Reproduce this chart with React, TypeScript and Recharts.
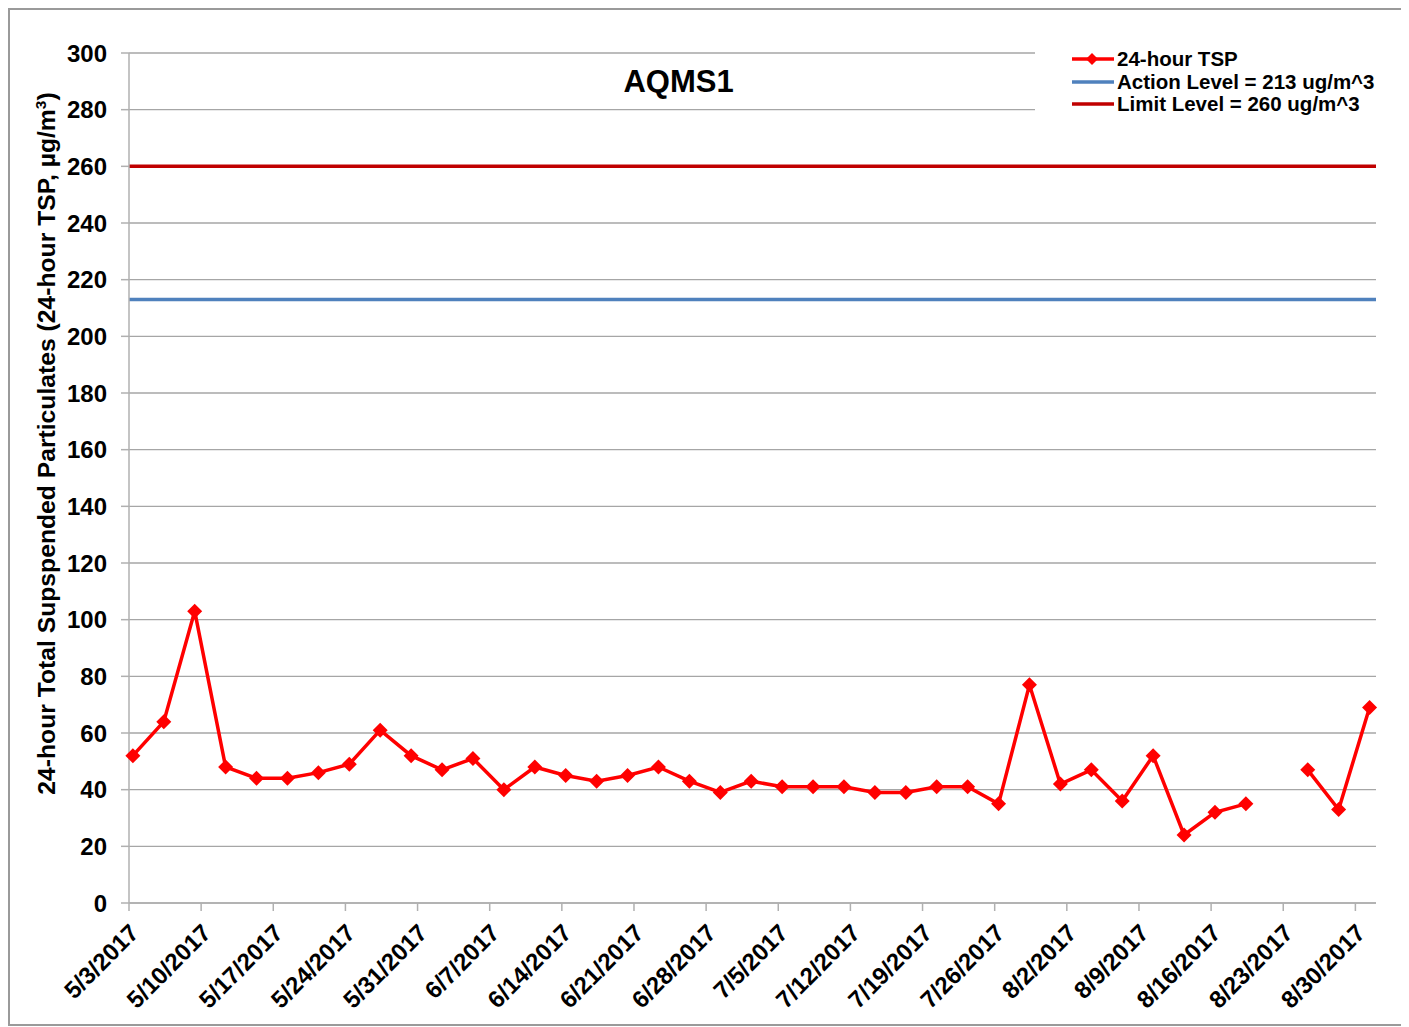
import {
  CartesianGrid,
  Customized,
  Legend,
  Line,
  LineChart,
  ReferenceLine,
  XAxis,
  YAxis,
} from "recharts";

const FONT = "'Liberation Sans', Arial, sans-serif";

// 24-hour samples, one every third day
const SAMPLE_DATES = [
  "2017-05-03", "2017-05-06", "2017-05-09", "2017-05-12", "2017-05-15",
  "2017-05-18", "2017-05-21", "2017-05-24", "2017-05-27", "2017-05-30",
  "2017-06-02", "2017-06-05", "2017-06-08", "2017-06-11", "2017-06-14",
  "2017-06-17", "2017-06-20", "2017-06-23", "2017-06-26", "2017-06-29",
  "2017-07-02", "2017-07-05", "2017-07-08", "2017-07-11", "2017-07-14",
  "2017-07-17", "2017-07-20", "2017-07-23", "2017-07-26", "2017-07-29",
  "2017-08-01", "2017-08-04", "2017-08-07", "2017-08-10", "2017-08-13",
  "2017-08-16", "2017-08-19", "2017-08-22", "2017-08-25", "2017-08-28",
  "2017-08-31",
];
// sampling starts in the morning
const SAMPLE_START = "T09:00:00Z";

const TSP = [
  52, 64, 103, 48, 44, 44, 46, 49, 61, 52,
  47, 51, 40, 48, 45, 43, 45, 48, 43, 39,
  43, 41, 41, 41, 39, 39, 41, 41, 35, 77,
  42, 47, 36, 52, 24, 32, 35, null, 47, 33,
  69,
];

const ACTION_LEVEL = 213;
const LIMIT_LEVEL = 260;

const X_TICK_DATES = [
  "2017-05-03", "2017-05-10", "2017-05-17", "2017-05-24", "2017-05-31",
  "2017-06-07", "2017-06-14", "2017-06-21", "2017-06-28", "2017-07-05",
  "2017-07-12", "2017-07-19", "2017-07-26", "2017-08-02", "2017-08-09",
  "2017-08-16", "2017-08-23", "2017-08-30",
];
const X_RANGE = ["2017-05-03", "2017-09-01"];
const Y_TICKS = [0, 20, 40, 60, 80, 100, 120, 140, 160, 180, 200, 220, 240, 260, 280, 300];

const COLORS = {
  tsp: "#FF0000",
  action: "#4F81BD",
  limit: "#C00000",
  grid: "#a6a6a6",
  axis: "#b0b0b0",
};

const dayMs = (s: string) => Date.parse(s + "T00:00:00Z");

const data = SAMPLE_DATES.map((d, i) => ({
  t: Date.parse(d + SAMPLE_START),
  tsp: TSP[i],
}));

function fmtDate(ms: number) {
  const d = new Date(ms);
  return `${d.getUTCMonth() + 1}/${d.getUTCDate()}/${d.getUTCFullYear()}`;
}

function DateTick(props: any) {
  const { x, y, payload } = props;
  const ax = x - 1;
  const ay = y + 11;
  return (
    <text
      x={ax}
      y={ay}
      dy="0.72em"
      textAnchor="end"
      transform={`rotate(-45 ${ax} ${ay})`}
      fontSize={24}
      fontWeight="bold"
      fontFamily={FONT}
      fill="#000"
    >
      {fmtDate(payload.value)}
    </text>
  );
}

function Diamond(props: any) {
  const { cx, cy, value, index } = props;
  if (cx == null || cy == null || value == null) return <g key={`d${index}`} />;
  const r = 7.5;
  return (
    <polygon
      key={`d${index}`}
      points={`${cx},${cy - r} ${cx + r},${cy} ${cx},${cy + r} ${cx - r},${cy}`}
      fill={COLORS.tsp}
    />
  );
}

function Decorations() {
  return (
    <g fontFamily={FONT} fontWeight="bold" fill="#000">
      <text x={668.5} y={82} textAnchor="middle" fontSize={31}>
        AQMS1
      </text>
      <text
        x={45}
        y={433.5}
        textAnchor="middle"
        fontSize={24.7}
        transform="rotate(-90 45 433.5)"
      >
        24-hour Total Supspended Particulates (24-hour TSP, µg/m
        <tspan fontSize={15.5} dy={-9}>3</tspan>
        <tspan dy={9}>)</tspan>
      </text>
    </g>
  );
}

const LEGEND_ITEMS = [
  { label: "24-hour TSP", color: COLORS.tsp, marker: true },
  { label: `Action Level = ${ACTION_LEVEL} ug/m^3`, color: COLORS.action, marker: false },
  { label: `Limit Level = ${LIMIT_LEVEL} ug/m^3`, color: COLORS.limit, marker: false },
];

function LegendBox() {
  return (
    <div
      style={{
        background: "#fff",
        padding: "3px 4px 4px 37px",
        fontFamily: FONT,
        fontWeight: "bold",
        fontSize: 20.5,
        color: "#000",
      }}
    >
      {LEGEND_ITEMS.map((it) => (
        <div
          key={it.label}
          style={{ display: "flex", alignItems: "center", height: 22.4, whiteSpace: "nowrap" }}
        >
          <svg width={42} height={16} style={{ display: "block" }}>
            <line x1={0} y1={8} x2={42} y2={8} stroke={it.color} strokeWidth={3.5} />
            {it.marker && <polygon points="20,2 26,8 20,14 14,8" fill={it.color} />}
          </svg>
          <span style={{ marginLeft: 3 }}>{it.label}</span>
        </div>
      ))}
    </div>
  );
}

export default function App() {
  return (
    <div
      style={{
        position: "relative",
        width: 1399,
        height: 1018,
        border: "2px solid #9a9a9a",
        boxSizing: "border-box",
        background: "#fff",
      }}
    >
      <LineChart
        width={1395}
        height={1014}
        data={data}
        margin={{ top: 43, right: 29, left: 0, bottom: 0 }}
      >
        <CartesianGrid vertical={false} stroke={COLORS.grid} strokeWidth={1.3} />
        <XAxis
          dataKey="t"
          type="number"
          domain={[dayMs(X_RANGE[0]), dayMs(X_RANGE[1])]}
          ticks={X_TICK_DATES.map(dayMs)}
          interval={0}
          height={121}
          tickSize={8}
          tickMargin={0}
          tick={<DateTick />}
          axisLine={{ stroke: COLORS.axis, strokeWidth: 1.5 }}
          tickLine={{ stroke: COLORS.axis, strokeWidth: 1.5 }}
        />
        <YAxis
          type="number"
          domain={[0, 300]}
          ticks={Y_TICKS}
          interval={0}
          width={119}
          tickSize={8}
          tickMargin={14}
          tick={{ fontSize: 24, fontWeight: "bold", fill: "#000", fontFamily: FONT }}
          axisLine={{ stroke: COLORS.axis, strokeWidth: 1.5 }}
          tickLine={{ stroke: COLORS.axis, strokeWidth: 1.5 }}
        />
        <ReferenceLine y={LIMIT_LEVEL} stroke={COLORS.limit} strokeWidth={3.5} />
        <ReferenceLine y={ACTION_LEVEL} stroke={COLORS.action} strokeWidth={3.5} />
        <Line
          dataKey="tsp"
          name="24-hour TSP"
          type="linear"
          stroke={COLORS.tsp}
          strokeWidth={3.5}
          dot={Diamond}
          activeDot={false}
          connectNulls={false}
          isAnimationActive={false}
        />
        <Legend
          layout="vertical"
          align="center"
          verticalAlign="middle"
          content={() => <LegendBox />}
          wrapperStyle={{ left: 1025, top: 35, width: 350 }}
        />
        <Customized component={<Decorations />} />
      </LineChart>
    </div>
  );
}
